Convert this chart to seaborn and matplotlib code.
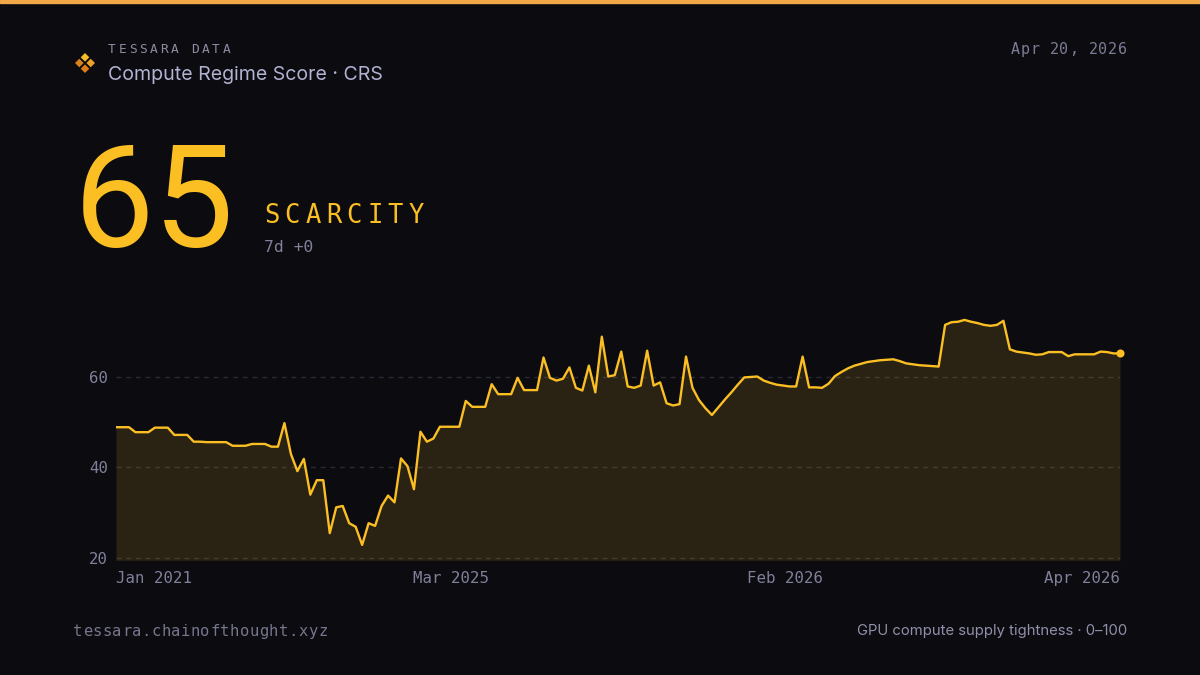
import matplotlib
matplotlib.use("Agg")
import matplotlib.pyplot as plt
from matplotlib.patches import Polygon
import seaborn as sns
import pandas as pd

# CRS series (one value per sample, oldest first)
crs_values = [
    48.9, 48.9, 48.9, 47.8, 47.8, 47.8, 48.8, 48.8, 48.8, 47.2, 47.2, 47.2,
    45.7, 45.7, 45.6, 45.6, 45.6, 45.6, 44.8, 44.8, 44.8, 45.2, 45.2, 45.2,
    44.6, 44.6, 49.8, 43.0, 39.2, 41.9, 34.0,
    37.2, 37.2, 25.5, 31.2, 31.5, 27.7, 26.9, 22.9, 27.7, 27.1, 31.5, 33.8,
    32.3, 42.0, 40.3, 35.2, 47.9, 45.7, 46.4, 49.0, 49.0, 49.0, 49.0, 54.7,
    53.4, 53.4, 53.4,
    58.4, 56.2, 56.2, 56.2, 59.8, 57.1, 57.1, 57.1, 64.3, 59.8, 59.2, 59.6,
    62.1, 57.6, 57.0, 62.5, 56.6, 68.9, 60.1, 60.4, 65.6, 57.9, 57.6, 58.1,
    65.8, 58.1, 58.8, 54.2, 53.7, 54.0, 64.5, 57.6, 54.9, 53.1, 51.6,
    53.3, 55.0, 56.6, 58.3, 59.9, 60.0, 60.1, 59.2, 58.7, 58.3, 58.1, 57.9,
    57.9, 64.5, 57.7, 57.7, 57.6, 58.5, 60.2, 61.1, 61.9, 62.5, 62.9, 63.3,
    63.5, 63.7, 63.8, 63.9, 63.5, 63.0, 62.8, 62.6, 62.5, 62.4, 62.3,
    71.5, 72.1, 72.2, 72.6, 72.2, 71.9, 71.5, 71.3, 71.5, 72.4, 66.1, 65.6,
    65.4, 65.2, 64.9, 65.0, 65.5, 65.5, 65.5, 64.6, 65.0, 65.0, 65.0, 65.0,
    65.6, 65.5, 65.2, 65.2,
]
x_labels = ["Jan 2021", "Mar 2025", "Feb 2026", "Apr 2026"]
y_ticks = [20, 40, 60]

score = "65"
regime = "SCARCITY"
change = "7d +0"

BG = "#0b0b10"
GOLD = "#fbbf24"
GRAY = "#80809a"
MONO = "DejaVu Sans Mono"
SANS = ["Inter", "DejaVu Sans"]

df = pd.DataFrame({"i": range(len(crs_values)), "crs": crs_values})

sns.set_theme(style="dark", rc={
    "figure.facecolor": BG,
    "axes.facecolor": BG,
    "savefig.facecolor": BG,
})
plt.rcParams["font.family"] = [MONO, "DejaVu Sans"]

W, H = 1200, 675
fig = plt.figure(figsize=(12, 6.75), dpi=100)


def fx(x):
    return x / W


def fy(y):
    return 1 - y / H


def spaced(x, y, s, step, **kw):
    # draw text one char at a time to get letter spacing
    for k, ch in enumerate(s):
        fig.text(fx(x + k * step), fy(y), ch, **kw)


# top accent bar
fig.patches.append(plt.Rectangle((0, fy(3)), 1, 3 / H, transform=fig.transFigure,
                                 color="#f0a848", zorder=5))

# logo: four little diamonds
logo = [((85, 57.3), "#f8bd26"), ((79.3, 63), "#d9821a"), ((90.7, 63), "#f0a02c"),
        ((85, 68.7), "#e27a12")]
for (cx, cy), col in logo:
    r = 4.3
    pts = [(fx(cx), fy(cy - r)), (fx(cx + r), fy(cy)), (fx(cx), fy(cy + r)), (fx(cx - r), fy(cy))]
    fig.patches.append(Polygon(pts, closed=True, transform=fig.transFigure, color=col,
                               linewidth=0))

spaced(108, 53, "TESSARA DATA", 10.4, fontsize=9.3, color="#8c8ca2", family=MONO)
fig.text(fx(108), fy(80), "Compute Regime Score · CRS", fontsize=14.1, color="#b2b2d2",
         family=SANS)
date_s = "Apr 20, 2026"
spaced(1127 - 9.75 * len(date_s) + 0.6, 54, date_s, 9.75, fontsize=10.8, color="#7c7c96",
       family=MONO)

fig.text(fx(74), fy(247), score, fontsize=103, color=GOLD, family=["Roboto", "DejaVu Sans"],
         fontweight="normal")
spaced(264, 223, regime, 20.6, fontsize=18.4, color=GOLD, family=MONO)
fig.text(fx(264), fy(252.5), change, fontsize=11.8, color=GRAY, family=MONO)

spaced(73, 636, "tessara.chainofthought.xyz", 9.8, fontsize=11.2, color="#76768e", family=MONO)
fig.text(fx(1127), fy(635), "GPU compute supply tightness · 0–100", fontsize=10.7,
         color="#9090aa", family=SANS, ha="right")

# chart
y_lo, y_hi = 19.5, 77.0
ax = fig.add_axes([fx(116), fy(560.3), fx(1120) - fx(116), (560.3 - 300) / H])
ax.set_facecolor(BG)
n = len(crs_values)
ax.fill_between(df["i"], y_lo, df["crs"], color=GOLD, alpha=0.13, linewidth=0, zorder=1)
sns.lineplot(data=df, x="i", y="crs", ax=ax, color=GOLD, linewidth=1.7, zorder=3)
ax.scatter([df["i"].iloc[-1]], [df["crs"].iloc[-1]], s=34, color=GOLD, zorder=4,
           linewidths=0, clip_on=False)

for v in y_ticks:
    ax.axhline(v, color="#2a2a34", linewidth=1, linestyle=(0, (3.5, 3.5)), zorder=0)

ax.set_xlim(0, n - 1)
ax.set_ylim(y_lo, y_hi)
ax.set_yticks(y_ticks)
ax.set_yticklabels([str(v) for v in y_ticks])
tick_pos = [0, (n - 1) / 3, 2 * (n - 1) / 3, n - 1]
ax.set_xticks(tick_pos)
ax.set_xticklabels(x_labels)
for lab, ha in zip(ax.get_xticklabels(), ["left", "center", "center", "right"]):
    lab.set_ha(ha)
ax.tick_params(axis="both", length=0, labelsize=11.3, colors=GRAY)
ax.tick_params(axis="x", pad=8)
ax.tick_params(axis="y", pad=5.5)
ax.set_xlabel("")
ax.set_ylabel("")
ax.grid(False)
for sp in ax.spines.values():
    sp.set_visible(False)

fig.savefig("out.png", dpi=100, facecolor=BG)
